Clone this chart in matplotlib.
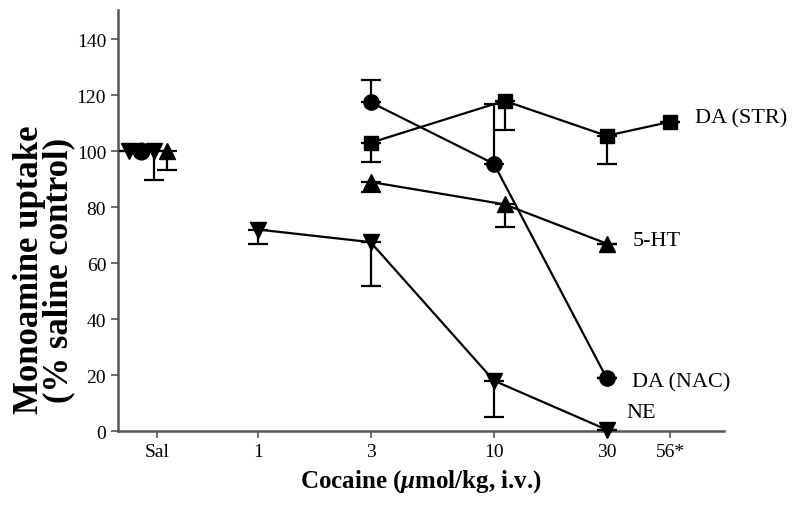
import matplotlib
matplotlib.use("Agg")
import matplotlib.pyplot as plt
import numpy as np

plt.rcParams['font.family'] = ['Liberation Serif', 'DejaVu Serif']
plt.rcParams['mathtext.fontset'] = 'custom'
plt.rcParams['mathtext.rm'] = 'Liberation Serif:bold'
plt.rcParams['mathtext.it'] = 'Liberation Serif:italic:bold'

# x tick labels (dose, umol/kg)
tick_doses = [1, 3, 10, 30, 56]
tick_labels = ['Sal', '1', '3', '10', '30', '56*']

# saline points (all at 100 %)
sal_vals = [100, 100, 100, 100]
sal_err = [0, 0, 10.4, 6.8]
sal_markers = ['o', 'v', 'v', '^']

# NE
ne_dose = [1, 3, 10, 30]
ne_val = [72, 67.5, 18, 0.5]
ne_err = [5, 15.7, 13, 0]

# DA (NAC) - error bars point up
nac_dose = [3, 10, 30]
nac_val = [117.5, 95.5, 19]
nac_err = [8, 21.5, 0]

# DA (STR)
str_dose = [3, 10, 30, 56]
str_val = [103, 118, 105.5, 110.5]
str_err = [7, 10.5, 10, 0]

# 5-HT
ht_dose = [3, 10, 30]
ht_val = [89, 81, 67]
ht_err = [3.5, 8, 0]

# small horizontal shifts so overlapping points stay visible (decades)
sal_pos = [-0.496, -0.547, -0.441, -0.386]
str_shift = [0, 0.045, 0, 0]
ht_shift = [0, 0.045, 0]

fig = plt.figure(figsize=(8, 5.06), dpi=100)
ax = fig.add_axes([0.1475, 0.1462, 0.7575, 0.8318])


def draw(dose, val, err, marker, shift=None, up=False, ms=11):
    x = np.log10(dose)
    if shift is not None:
        x = x + np.array(shift)
    err = np.array(err)
    zeros = np.zeros_like(err)
    yerr = [zeros, err] if up else [err, zeros]
    ax.errorbar(x, val, yerr=yerr, fmt='-' + marker, color='black', lw=1.6,
                ms=ms, capsize=7, elinewidth=1.6, capthick=1.6, zorder=3,
                clip_on=False)


draw(str_dose, str_val, str_err, 's', shift=str_shift, ms=10)
draw(nac_dose, nac_val, nac_err, 'o', up=True)
draw(ht_dose, ht_val, ht_err, '^', shift=ht_shift)
draw(ne_dose, ne_val, ne_err, 'v', ms=12)

for x, v, e, m in zip(sal_pos, sal_vals, sal_err, sal_markers):
    ax.errorbar([x], [v], yerr=[[e], [0]], fmt=m, color='black', ms=12,
                capsize=7, elinewidth=1.6, capthick=1.6, zorder=3)

ax.text(1.852, 112, 'DA (STR)', fontsize=16, va='center')
ax.text(np.log10(30) + 0.11, 68, '5-HT', fontsize=16, va='center')
ax.text(np.log10(30) + 0.11, 17.5, 'DA (NAC)', fontsize=16, va='center')
ax.text(np.log10(30) + 0.085, 6.5, 'NE', fontsize=16, va='center')

ax.set_xlim(-0.593, 1.975)
ax.set_ylim(0, 150.4)
ax.set_xticks([-0.428] + list(np.log10(tick_doses)))
ax.set_xticklabels(tick_labels)
ax.set_yticks(np.arange(0, 141, 20))
ax.tick_params(labelsize=14, direction='out', length=5, width=1.2, color='#555555')

for s in ['top', 'right']:
    ax.spines[s].set_visible(False)
for s in ['left', 'bottom']:
    ax.spines[s].set_color('#555555')
    ax.spines[s].set_linewidth(1.8)

ax.set_xlabel(r'Cocaine ($\mu$mol/kg, i.v.)', fontsize=18, fontweight='bold', labelpad=5)
ax.set_ylabel('Monoamine uptake\n(% saline control)', fontsize=25, fontweight='bold',
              linespacing=0.85)
ax.yaxis.set_label_coords(-0.071, 0.385)

fig.savefig('out.png', dpi=100)
